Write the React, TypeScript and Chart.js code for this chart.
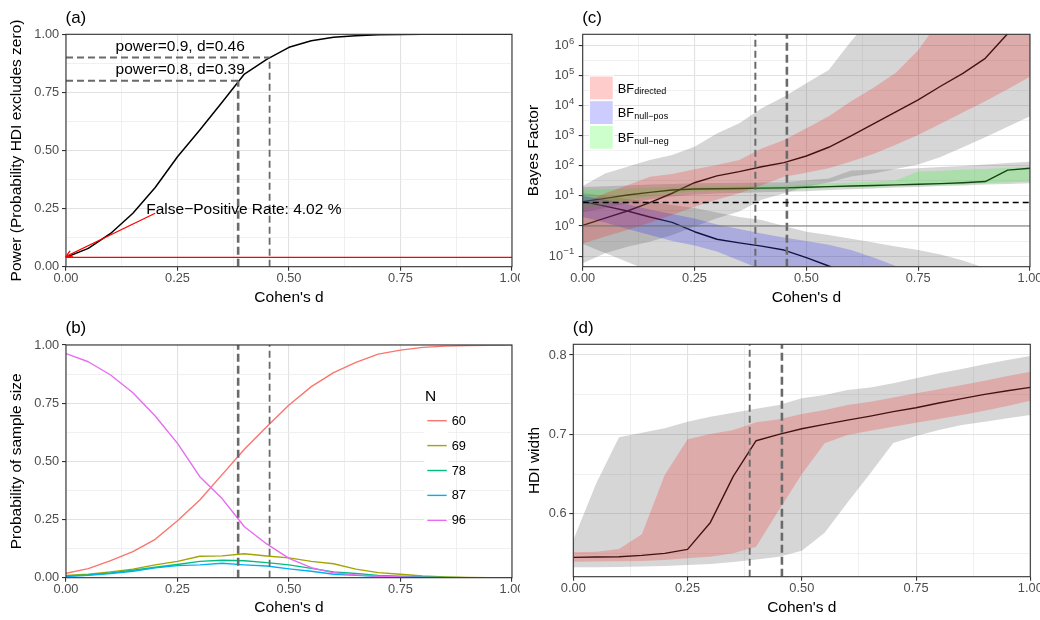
import React, { useEffect, useRef } from "react";
import { Chart, registerables } from "chart.js";
Chart.register(...registerables);

const FONT = '"Liberation Sans", Arial, Helvetica, sans-serif';
Chart.defaults.font.family = FONT;

// ---------- shared x grid (Cohen's d) ----------
const cohensD = [0, 0.05, 0.1, 0.15, 0.2, 0.25, 0.3, 0.35, 0.4, 0.45, 0.5, 0.55, 0.6, 0.65, 0.7, 0.75, 0.8, 0.85, 0.9, 0.95, 1.0];
const xTickValues = [0, 0.125, 0.25, 0.375, 0.5, 0.625, 0.75, 0.875, 1];
const xMajorTicks = [0, 0.25, 0.5, 0.75, 1];
const xTickLabels = ["0.00", "0.25", "0.50", "0.75", "1.00"];

// reference effect sizes
const d80 = 0.386;
const d90 = 0.4565;
const powerLevels = [0.8, 0.9];

// ---------- (a) power ----------
const power = [0.04, 0.079, 0.143, 0.23, 0.341, 0.473, 0.588, 0.708, 0.829, 0.892, 0.944, 0.972, 0.987, 0.994, 0.998, 0.999, 1, 1, 1, 1, 1];
const falsePositiveRate = 0.0402;
const arrowFrom = [0.2, 0.23];
const arrowTo = [0, 0.044];
const unitTicks = [0, 0.125, 0.25, 0.375, 0.5, 0.625, 0.75, 0.875, 1];
const unitMajor = [0, 0.25, 0.5, 0.75, 1];
const unitLabels = ["0.00", "0.25", "0.50", "0.75", "1.00"];

// ---------- (b) probability of sample size ----------
const sampleSizes = ["60", "69", "78", "87", "96"];
const probN60 = [0.019, 0.039, 0.073, 0.112, 0.165, 0.245, 0.334, 0.443, 0.552, 0.649, 0.742, 0.821, 0.881, 0.925, 0.961, 0.978, 0.99, 0.995, 0.998, 0.999, 1.0];
const probN69 = [0.01, 0.015, 0.025, 0.037, 0.055, 0.07, 0.092, 0.094, 0.103, 0.093, 0.085, 0.07, 0.06, 0.037, 0.022, 0.015, 0.007, 0.003, 0.001, 0, 0];
const probN78 = [0.008, 0.012, 0.02, 0.032, 0.045, 0.057, 0.07, 0.075, 0.073, 0.065, 0.055, 0.04, 0.025, 0.018, 0.01, 0.006, 0.003, 0.001, 0, 0, 0];
const probN87 = [0.005, 0.01, 0.018, 0.028, 0.042, 0.052, 0.055, 0.062, 0.055, 0.05, 0.038, 0.028, 0.015, 0.01, 0.006, 0.003, 0.001, 0, 0, 0, 0];
const probN96 = [0.963, 0.928, 0.871, 0.795, 0.695, 0.577, 0.434, 0.34, 0.219, 0.145, 0.083, 0.043, 0.021, 0.012, 0.006, 0.003, 0.001, 0, 0, 0, 0];
const nColors = ["#F8766D", "#A3A500", "#00BF7D", "#00B0F6", "#E76BF3"];

// ---------- (c) Bayes factors (log10 values) ----------
const dirMedLog = [0.02, 0.26, 0.5, 0.78, 1.09, 1.44, 1.67, 1.81, 1.97, 2.11, 2.33, 2.62, 3.0, 3.4, 3.8, 4.2, 4.65, 5.08, 5.58, 6.4, 7.2];
const dirInnerLoLog = [-0.58, -0.35, -0.13, 0.11, 0.37, 0.64, 0.87, 1.09, 1.36, 1.64, 1.77, 1.92, 2.15, 2.4, 2.7, 3.03, 3.4, 3.78, 4.15, 4.55, 4.97];
const dirInnerHiLog = [0.75, 1.09, 1.36, 1.64, 1.73, 1.89, 2.03, 2.2, 2.58, 2.86, 3.25, 3.65, 4.15, 4.6, 5.1, 5.85, 6.9, 7.5, 8.1, 8.6, 9.1];
const dirOuterLoLog = [-1.24, -0.91, -0.69, -0.52, -0.3, -0.02, 0.26, 0.48, 0.87, 1.09, 1.31, 1.45, 1.65, 1.75, 1.9, 2.05, 2.3, 2.62, 2.95, 3.3, 3.65];
const dirOuterHiLog = [1.33, 1.75, 1.97, 2.2, 2.36, 2.64, 3.08, 3.42, 3.92, 4.3, 4.75, 5.19, 6.15, 7.0, 7.5, 8.0, 8.5, 9.0, 9.5, 10.0, 10.5];
const posMedLog = [0.81, 0.66, 0.5, 0.3, 0.12, -0.19, -0.44, -0.56, -0.67, -0.8, -1.05, -1.33, -1.6, -1.85, -2.1, -2.35, -2.6, -2.85, -3.1, -3.35, -3.6];
const posInnerLoLog = [0.3, 0.12, -0.1, -0.3, -0.5, -0.65, -0.85, -1.15, -1.45, -1.75, -2.0, -2.3, -2.6, -2.9, -3.2, -3.5, -3.8, -4.1, -4.4, -4.7, -5.0];
const posInnerHiLog = [1.0, 0.88, 0.72, 0.55, 0.4, 0.25, 0.05, -0.1, -0.25, -0.38, -0.5, -0.62, -0.8, -1.05, -1.33, -1.6, -1.9, -2.2, -2.5, -2.8, -3.1];
const posOuterLoLog = [-0.6, -0.9, -1.2, -1.5, -1.8, -2.1, -2.4, -2.7, -3.0, -3.3, -3.6, -3.9, -4.2, -4.5, -4.8, -5.1, -5.4, -5.7, -6.0, -6.3, -6.6];
const posOuterHiLog = [1.1, 1.0, 0.9, 0.8, 0.7, 0.6, 0.45, 0.3, 0.2, 0.0, -0.19, -0.3, -0.42, -0.55, -0.68, -0.8, -0.95, -1.15, -1.4, -1.65, -1.9];
const negMedLog = [0.81, 0.92, 1.03, 1.12, 1.2, 1.23, 1.24, 1.25, 1.26, 1.27, 1.29, 1.31, 1.33, 1.35, 1.37, 1.39, 1.41, 1.44, 1.48, 1.86, 1.92];
const negInnerLoLog = [0.55, 0.7, 0.85, 0.98, 1.08, 1.15, 1.17, 1.18, 1.2, 1.22, 1.24, 1.26, 1.28, 1.3, 1.32, 1.34, 1.36, 1.38, 1.42, 1.45, 1.48];
const negInnerHiLog = [1.2, 1.22, 1.24, 1.27, 1.3, 1.32, 1.33, 1.34, 1.35, 1.36, 1.38, 1.42, 1.45, 1.48, 1.52, 1.81, 1.84, 1.87, 1.9, 1.94, 1.97];
const negOuterLoLog = [0.45, 0.6, 0.75, 0.88, 0.98, 1.05, 1.08, 1.1, 1.12, 1.14, 1.16, 1.2, 1.22, 1.25, 1.28, 1.3, 1.33, 1.35, 1.38, 1.4, 1.42];
const negOuterHiLog = [1.3, 1.32, 1.35, 1.38, 1.4, 1.42, 1.43, 1.44, 1.45, 1.46, 1.52, 1.58, 1.85, 1.87, 1.89, 1.92, 1.96, 2.0, 2.05, 2.1, 2.14];
const bfThreshold = 6;
const bfNeutral = 1;
const yLogExponents = [-1, -0.5, 0, 0.5, 1, 1.5, 2, 2.5, 3, 3.5, 4, 4.5, 5, 5.5, 6];
const yLogLabelExponents = [-1, 0, 1, 2, 3, 4, 5, 6];
const bfLegendSubs = ["directed", "null\u2212pos", "null\u2212neg"];
const bfLegendFills = ["#FFCCCC", "#CCCCFF", "#CCFFCC"];

// ---------- (d) HDI width ----------
const hdiMed = [0.545, 0.5454, 0.5458, 0.5475, 0.55, 0.555, 0.589, 0.647, 0.692, 0.7, 0.707, 0.7126, 0.718, 0.723, 0.7286, 0.7336, 0.7395, 0.745, 0.7504, 0.755, 0.7592];
const hdiInnerHi = [0.5513, 0.552, 0.5555, 0.574, 0.6487, 0.6937, 0.7004, 0.7055, 0.7151, 0.719, 0.7256, 0.7307, 0.737, 0.7412, 0.7466, 0.7517, 0.7567, 0.7622, 0.7676, 0.7735, 0.779];
const hdiInnerLo = [0.5395, 0.5396, 0.54, 0.5405, 0.5416, 0.5437, 0.5458, 0.55, 0.5584, 0.6046, 0.6496, 0.6887, 0.6992, 0.7046, 0.7097, 0.7147, 0.7193, 0.7244, 0.7298, 0.7357, 0.7424];
const hdiOuterHi = [0.5668, 0.6382, 0.6962, 0.7021, 0.7076, 0.716, 0.7223, 0.7273, 0.7324, 0.737, 0.7454, 0.7496, 0.7559, 0.7592, 0.7643, 0.7706, 0.7769, 0.7824, 0.7882, 0.7937, 0.7987];
const hdiOuterLo = [0.5324, 0.5325, 0.5328, 0.5333, 0.534, 0.5352, 0.5366, 0.539, 0.5424, 0.5458, 0.5534, 0.576, 0.614, 0.651, 0.689, 0.6979, 0.7055, 0.7118, 0.716, 0.7202, 0.7244];
const hdiTicks = [0.55, 0.6, 0.65, 0.7, 0.75, 0.8];
const hdiMajor = [0.6, 0.7, 0.8];
const hdiLabels = ["0.6", "0.7", "0.8"];

// ---------- styles ----------
const DASH_GRAY = "#6a6a6a";
const GRAY_BAND = "rgba(90,90,90,0.25)";
const RED_BAND = "rgba(255,0,0,0.2)";
const BLUE_BAND = "rgba(0,0,255,0.2)";
const GREEN_BAND = "rgba(0,255,0,0.2)";
const TICK_FONT = 12.8;
const TITLE_FONT = 15.5;

type Pt = { x: number; y: number };
const pts = (xs: number[], ys: number[]): Pt[] => xs.map((x, i) => ({ x, y: ys[i] }));
const seg = (x0: number, y0: number, x1: number, y1: number): Pt[] => [{ x: x0, y: y0 }, { x: x1, y: y1 }];
const pow10 = (arr: number[]) => arr.map((v) => Math.pow(10, v));
const near = (a: number, b: number) => Math.abs(a - b) < 1e-6;

function gridOpts(isMajor: (v: number) => boolean) {
  const maj = (c: any) => c.tick && isMajor(c.tick.value);
  return {
    color: (c: any) => (maj(c) ? "#E2E2E2" : "#ECECEC"),
    lineWidth: (c: any) => (maj(c) ? 1.1 : 0.8),
    tickColor: (c: any) => (maj(c) ? "#333333" : "rgba(0,0,0,0)"),
    tickWidth: 1.1,
    tickLength: 4,
    drawTicks: true,
    drawOnChartArea: true,
  };
}

function xAxisOpts(height: number) {
  const isMajor = (v: number) => xMajorTicks.some((m) => near(m, v));
  return {
    type: "linear",
    min: 0,
    max: 1,
    afterBuildTicks: (s: any) => {
      s.ticks = xTickValues.map((v) => ({ value: v }));
    },
    afterFit: (s: any) => {
      s.height = height;
      s.paddingLeft = 0;
      s.paddingRight = 0;
    },
    ticks: {
      autoSkip: false,
      maxRotation: 0,
      minRotation: 0,
      padding: 1.5,
      color: "#4D4D4D",
      font: { family: FONT, size: TICK_FONT, lineHeight: 1 },
      callback: (v: any) => {
        const i = xMajorTicks.findIndex((m) => near(m, Number(v)));
        return i >= 0 ? xTickLabels[i] : "";
      },
    },
    grid: gridOpts(isMajor),
    border: { display: false },
    title: {
      display: true,
      text: "Cohen's d",
      color: "#000",
      font: { family: FONT, size: TITLE_FONT, lineHeight: 1 },
      padding: { top: 0, bottom: 4.6 },
    },
  };
}

function yLinearOpts(o: {
  min: number; max: number; ticks: number[]; major: number[]; labels: string[];
  width: number; title: string; titlePad: number;
}) {
  const isMajor = (v: number) => o.major.some((m) => near(m, v));
  return {
    type: "linear",
    min: o.min,
    max: o.max,
    afterBuildTicks: (s: any) => {
      s.ticks = o.ticks.map((v) => ({ value: v }));
    },
    afterFit: (s: any) => {
      s.width = o.width;
    },
    ticks: {
      autoSkip: false,
      padding: 2.8,
      color: "#4D4D4D",
      font: { family: FONT, size: TICK_FONT, lineHeight: 1 },
      callback: (v: any) => {
        const i = o.major.findIndex((m) => near(m, Number(v)));
        return i >= 0 ? o.labels[i] : "";
      },
    },
    grid: gridOpts(isMajor),
    border: { display: false },
    title: {
      display: true,
      text: o.title,
      color: "#000",
      font: { family: FONT, size: TITLE_FONT, lineHeight: 1 },
      padding: { top: o.titlePad, bottom: 0 },
    },
  };
}

function baseOptions(p: { top: number; right: number; xH: number; y: any }) {
  return {
    responsive: false,
    maintainAspectRatio: false,
    animation: false,
    devicePixelRatio: 1,
    events: [],
    layout: { padding: { left: 0, right: p.right, top: p.top, bottom: 0 } },
    plugins: {
      legend: { display: false },
      tooltip: { enabled: false },
      title: { display: false },
    },
    elements: {
      point: { radius: 0, hoverRadius: 0 },
      line: { tension: 0, borderWidth: 1.4, borderCapStyle: "butt", borderJoinStyle: "round" },
    },
    scales: { x: xAxisOpts(p.xH), y: p.y },
  };
}

const line = (data: Pt[], color: string, width: number, order: number, dash?: number[]) => ({
  data,
  borderColor: color,
  backgroundColor: color,
  borderWidth: width,
  borderDash: dash || [],
  pointRadius: 0,
  fill: false,
  order,
});

const bandPair = (lo: Pt[], hi: Pt[], loIndex: number, color: string, order: number) => [
  { data: lo, borderColor: "rgba(0,0,0,0)", borderWidth: 1, pointRadius: 0, fill: false, order },
  { data: hi, borderColor: "rgba(0,0,0,0)", borderWidth: 1, pointRadius: 0, backgroundColor: color, fill: { target: loIndex }, order },
];

const framePlugin = {
  id: "frame",
  afterDatasetsDraw(chart: any) {
    const { ctx, chartArea: a } = chart;
    ctx.save();
    ctx.strokeStyle = "#333333";
    ctx.lineWidth = 1.1;
    ctx.strokeRect(a.left, a.top, a.right - a.left, a.bottom - a.top);
    ctx.restore();
  },
};

const tagPlugin = (tag: string) => ({
  id: "tag",
  afterDraw(chart: any) {
    const { ctx, chartArea: a } = chart;
    ctx.save();
    ctx.font = `17px ${FONT}`;
    ctx.fillStyle = "#000";
    ctx.textAlign = "left";
    ctx.textBaseline = "alphabetic";
    ctx.fillText(tag, a.left - 0.5, 22.5);
    ctx.restore();
  },
});

// ---------- panel (a) ----------
const powerTexts = [
  { text: "power=0.9, d=0.46", x: 0.256, y: 0.948, align: "center" },
  { text: "power=0.8, d=0.39", x: 0.256, y: 0.848, align: "center" },
  { text: `False\u2212Positive Rate: ${(falsePositiveRate * 100).toFixed(2)} %`, x: 0.18, y: 0.246, align: "left" },
];

function configA() {
  const annot = {
    id: "annotA",
    afterDatasetsDraw(chart: any) {
      const { ctx } = chart;
      const xs = chart.scales.x, ys = chart.scales.y;
      ctx.save();
      const tx = xs.getPixelForValue(arrowTo[0]), ty = ys.getPixelForValue(arrowTo[1]);
      const fx = xs.getPixelForValue(arrowFrom[0]), fy = ys.getPixelForValue(arrowFrom[1]);
      const ang = Math.atan2(fy - ty, fx - tx);
      ctx.strokeStyle = "#FF0000";
      ctx.lineWidth = 1.3;
      ctx.beginPath();
      ctx.moveTo(tx + 7 * Math.cos(ang + 0.5), ty + 7 * Math.sin(ang + 0.5));
      ctx.lineTo(tx, ty);
      ctx.lineTo(tx + 7 * Math.cos(ang - 0.5), ty + 7 * Math.sin(ang - 0.5));
      ctx.stroke();
      ctx.fillStyle = "#000";
      ctx.font = `15.5px ${FONT}`;
      ctx.textBaseline = "middle";
      for (const t of powerTexts) {
        ctx.textAlign = t.align as CanvasTextAlign;
        ctx.fillText(t.text, xs.getPixelForValue(t.x), ys.getPixelForValue(t.y));
      }
      ctx.restore();
    },
  };
  return {
    type: "line",
    data: {
      datasets: [
        line(seg(d80, 0, d80, powerLevels[0]), DASH_GRAY, 2.6, 0, [8, 4]),
        line(seg(d90, 0, d90, powerLevels[1]), DASH_GRAY, 1.8, 0, [7, 4]),
        line(seg(0, powerLevels[1], d90, powerLevels[1]), DASH_GRAY, 2, 0, [7, 4]),
        line(seg(0, powerLevels[0], d80, powerLevels[0]), DASH_GRAY, 2, 0, [7, 4]),
        line(seg(0, falsePositiveRate, 1, falsePositiveRate), "#FF0000", 1.3, 1),
        line(seg(arrowFrom[0], arrowFrom[1], arrowTo[0], arrowTo[1]), "#FF0000", 1.3, 1),
        line(pts(cohensD, power), "#000000", 1.5, 2),
      ],
    },
    options: baseOptions({
      top: 34.3,
      right: 8,
      xH: 43.3,
      y: yLinearOpts({ min: 0, max: 1, ticks: unitTicks, major: unitMajor, labels: unitLabels, width: 66, title: "Power (Probability HDI excludes zero)", titlePad: 9.2 }),
    }),
    plugins: [framePlugin, tagPlugin("(a)"), annot],
  };
}

// ---------- panel (b) ----------
function configB() {
  const series = [probN60, probN69, probN78, probN87, probN96];
  const legend = {
    id: "legendB",
    afterDatasetsDraw(chart: any) {
      const { ctx } = chart;
      ctx.save();
      const rowY = (i: number) => 110.7 + i * 24.9;
      ctx.fillStyle = "#FFFFFF";
      ctx.fillRect(424.3, rowY(0) - 12.4, 24, 24.9 * sampleSizes.length);
      ctx.fillStyle = "#000";
      ctx.font = `${TITLE_FONT}px ${FONT}`;
      ctx.textAlign = "left";
      ctx.textBaseline = "middle";
      ctx.fillText("N", 425, 86.7);
      ctx.font = `${TICK_FONT}px ${FONT}`;
      sampleSizes.forEach((n, i) => {
        ctx.strokeStyle = nColors[i];
        ctx.lineWidth = 1.4;
        ctx.beginPath();
        ctx.moveTo(427.3, rowY(i));
        ctx.lineTo(446.7, rowY(i));
        ctx.stroke();
        ctx.fillStyle = "#000";
        ctx.fillText(n, 451.7, rowY(i) + 0.5);
      });
      ctx.restore();
    },
  };
  return {
    type: "line",
    data: {
      datasets: [
        line(seg(d80, 0, d80, 1), DASH_GRAY, 2.6, 0, [8, 4]),
        line(seg(d90, 0, d90, 1), DASH_GRAY, 1.8, 0, [7, 4]),
        ...series.map((s, i) => line(pts(cohensD, s), nColors[i], 1.4, 14 - i)),
      ],
    },
    options: baseOptions({
      top: 35,
      right: 8,
      xH: 42.3,
      y: yLinearOpts({ min: 0, max: 1, ticks: unitTicks, major: unitMajor, labels: unitLabels, width: 66, title: "Probability of sample size", titlePad: 9 }),
    }),
    plugins: [framePlugin, tagPlugin("(b)"), legend],
  };
}

// ---------- panel (c) ----------
function configC() {
  const yMin = Math.pow(10, -1.354);
  const yMax = Math.pow(10, 6.379);
  const L = (arr: number[]) => pts(cohensD, pow10(arr));
  const isMajorLog = (v: number) => {
    const e = Math.log10(v);
    return Math.abs(e - Math.round(e)) < 1e-6;
  };
  const datasets: any[] = [
    ...bandPair(L(dirOuterLoLog), L(dirOuterHiLog), 0, GRAY_BAND, 50),
    ...bandPair(L(posOuterLoLog), L(posOuterHiLog), 2, GRAY_BAND, 50),
    ...bandPair(L(negOuterLoLog), L(negOuterHiLog), 4, GRAY_BAND, 50),
    ...bandPair(L(dirInnerLoLog), L(dirInnerHiLog), 6, RED_BAND, 20),
    ...bandPair(L(posInnerLoLog), L(posInnerHiLog), 8, BLUE_BAND, 20),
    ...bandPair(L(negInnerLoLog), L(negInnerHiLog), 10, GREEN_BAND, 20),
    line(L(dirMedLog), "#000000", 1.4, 100),
    line(L(posMedLog), "#000000", 1.4, 100),
    line(L(negMedLog), "#000000", 1.4, 100),
    line(seg(0, bfNeutral, 1, bfNeutral), "#777777", 1.2, 0),
    line(seg(0, bfThreshold, 1, bfThreshold), "#000000", 1.5, 0, [6, 4]),
    line(seg(d80, yMin, d80, yMax), DASH_GRAY, 2.0, 0, [7, 4]),
    line(seg(d90, yMin, d90, yMax), DASH_GRAY, 2.6, 0, [8, 4]),
  ];
  const extras = {
    id: "extrasC",
    afterDatasetsDraw(chart: any) {
      const { ctx, chartArea: a } = chart;
      const ys = chart.scales.y;
      ctx.save();
      ctx.fillStyle = "#4D4D4D";
      ctx.textAlign = "right";
      ctx.textBaseline = "middle";
      const right = a.left - 8.5;
      for (const e of yLogLabelExponents) {
        const y = ys.getPixelForValue(Math.pow(10, e));
        const expStr = e < 0 ? "\u2212" + Math.abs(e) : String(e);
        ctx.font = `9.5px ${FONT}`;
        const ew = ctx.measureText(expStr).width;
        ctx.fillText(expStr, right, y - 4.5);
        ctx.font = `${TICK_FONT}px ${FONT}`;
        ctx.fillText("10", right - ew - 0.3, y);
      }
      ctx.fillStyle = "#FFFFFF";
      ctx.fillRect(69, 75.3, 25, 75);
      bfLegendSubs.forEach((sub, i) => {
        const top = 76.5 + i * 24.7;
        ctx.fillStyle = bfLegendFills[i];
        ctx.fillRect(70, top, 22.7, 22.8);
        const base = top + 11.4 + 4.6;
        ctx.fillStyle = "#000";
        ctx.textAlign = "left";
        ctx.textBaseline = "alphabetic";
        ctx.font = `${TICK_FONT}px ${FONT}`;
        ctx.fillText("BF", 97.7, base);
        const w = ctx.measureText("BF").width;
        ctx.font = `9px ${FONT}`;
        ctx.fillText(sub, 97.7 + w + 0.3, base + 1.8);
      });
      ctx.restore();
    },
  };
  return {
    type: "line",
    data: { datasets },
    options: baseOptions({
      top: 34.3,
      right: 10,
      xH: 43.3,
      y: {
        type: "logarithmic",
        min: yMin,
        max: yMax,
        afterBuildTicks: (s: any) => {
          s.ticks = yLogExponents.map((e) => ({ value: Math.pow(10, e) }));
        },
        afterFit: (s: any) => {
          s.width = 62.7;
        },
        ticks: { autoSkip: false, padding: 2.8, callback: () => "" },
        grid: gridOpts(isMajorLog),
        border: { display: false },
        title: {
          display: true,
          text: "Bayes Factor",
          color: "#000",
          font: { family: FONT, size: TITLE_FONT, lineHeight: 1 },
          padding: { top: 6.3, bottom: 0 },
        },
      },
    }),
    plugins: [framePlugin, tagPlugin("(c)"), extras],
  };
}

// ---------- panel (d) ----------
function configD() {
  const yMin = 0.5206;
  const yMax = 0.8135;
  const datasets: any[] = [
    ...bandPair(pts(cohensD, hdiOuterLo), pts(cohensD, hdiOuterHi), 0, GRAY_BAND, 50),
    ...bandPair(pts(cohensD, hdiInnerLo), pts(cohensD, hdiInnerHi), 2, RED_BAND, 20),
    line(pts(cohensD, hdiMed), "#000000", 1.4, 100),
    line(seg(d80, yMin, d80, yMax), DASH_GRAY, 1.9, 0, [7, 4]),
    line(seg(d90, yMin, d90, yMax), DASH_GRAY, 2.6, 0, [8, 4]),
  ];
  return {
    type: "line",
    data: { datasets },
    options: baseOptions({
      top: 34.3,
      right: 9.7,
      xH: 43.3,
      y: yLinearOpts({ min: yMin, max: yMax, ticks: hdiTicks, major: hdiMajor, labels: hdiLabels, width: 53.3, title: "HDI width", titlePad: 7.3 }),
    }),
    plugins: [framePlugin, tagPlugin("(d)")],
  };
}

function Panel({ left, top, make }: { left: number; top: number; make: () => any }) {
  const ref = useRef<HTMLCanvasElement | null>(null);
  useEffect(() => {
    if (!ref.current) return;
    const chart = new Chart(ref.current, make());
    return () => chart.destroy();
  }, [make]);
  return (
    <div style={{ position: "absolute", left, top, width: 520, height: 310 }}>
      <canvas ref={ref} width={520} height={310} style={{ display: "block", width: 520, height: 310 }} />
    </div>
  );
}

export default function App() {
  return (
    <div style={{ position: "absolute", left: 0, top: 0, width: 1040, height: 620, background: "#FFFFFF", overflow: "hidden" }}>
      <Panel left={0} top={0} make={configA} />
      <Panel left={520} top={0} make={configC} />
      <Panel left={0} top={310} make={configB} />
      <Panel left={520} top={310} make={configD} />
    </div>
  );
}
